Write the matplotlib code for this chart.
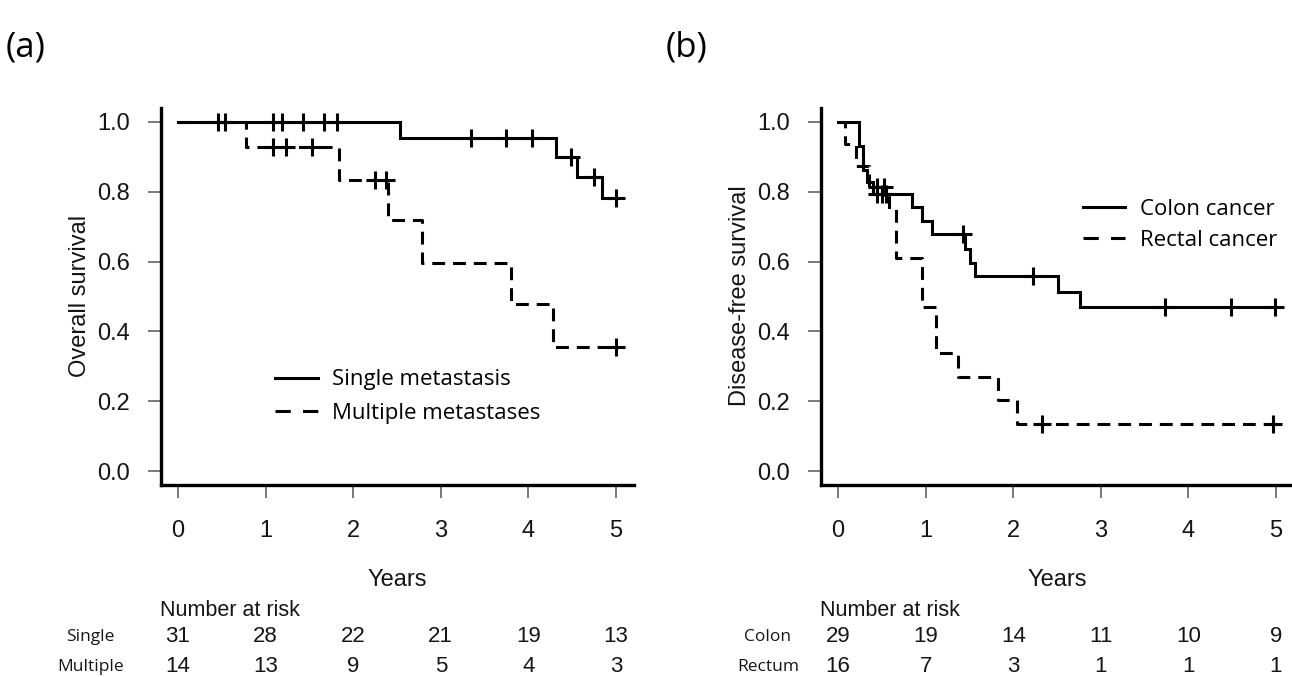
import numpy as np
import matplotlib
matplotlib.use("Agg")
import matplotlib.pyplot as plt
import matplotlib.transforms as mtransforms
from matplotlib.lines import Line2D

# ---------------- data ----------------
years = [0, 1, 2, 3, 4, 5]

# (a) overall survival
single_t = [0, 2.53, 4.32, 4.55, 4.84, 5.0]
single_s = [1.0, 0.955, 0.900, 0.842, 0.783, 0.783]
single_cens = [0.46, 0.54, 1.08, 1.19, 1.43, 1.67, 1.82, 3.35, 3.75, 4.04, 4.49, 4.75, 5.0]

multiple_t = [0, 0.78, 1.84, 2.40, 2.78, 3.80, 4.28, 5.0]
multiple_s = [1.0, 0.929, 0.834, 0.719, 0.597, 0.478, 0.356, 0.356]
multiple_cens = [1.08, 1.23, 1.53, 2.25, 2.37, 5.0]

# (b) disease-free survival
colon_t = [0, 0.24, 0.28, 0.33, 0.40, 0.84, 0.96, 1.07, 1.45, 1.51, 1.56, 2.51, 2.76, 5.0]
colon_s = [1.0, 0.931, 0.862, 0.828, 0.793, 0.755, 0.717, 0.678, 0.636, 0.597, 0.559, 0.514, 0.471, 0.471]
colon_cens = [0.45, 0.50, 0.55, 1.43, 2.23, 3.73, 4.49, 4.99]

rectal_t = [0, 0.08, 0.21, 0.35, 0.58, 0.66, 0.96, 1.12, 1.37, 1.83, 2.04, 5.0]
rectal_s = [1.0, 0.9375, 0.875, 0.8125, 0.75, 0.609, 0.47, 0.338, 0.27, 0.203, 0.136, 0.136]
rectal_cens = [0.45, 0.52, 2.33, 4.97]

# number at risk
single_risk = [31, 28, 22, 21, 19, 13]
multiple_risk = [14, 13, 9, 5, 4, 3]
colon_risk = [29, 19, 14, 11, 10, 9]
rectum_risk = [16, 7, 3, 1, 1, 1]

yticks = [0.0, 0.2, 0.4, 0.6, 0.8, 1.0]

# ---------------- styling ----------------
W, H = 1292, 677
fig = plt.figure(figsize=(W / 100, H / 100), dpi=100)

AX_FONT = "Liberation Sans"
UI_FONT = "Open Sans"
TICK_FS = 17
TXT = "#151515"
LW = 2.2
DASH = (0, (4.2, 2.6))


def px(x, y):
    return x / W, 1 - y / H


def step_value(t, s, ct):
    t = np.asarray(t)
    s = np.asarray(s)
    idx = np.searchsorted(t, ct, side="right") - 1
    return s[np.clip(idx, 0, len(s) - 1)]


def make_axes(left_px):
    l, b = px(left_px, 485)
    ax = fig.add_axes([l, b, 473 / W, 377 / H])
    ax.set_xlim(-0.2, 5.2)
    ax.set_ylim(-0.04, 1.04)
    for sp in ["top", "right"]:
        ax.spines[sp].set_visible(False)
    for sp in ["left", "bottom"]:
        ax.spines[sp].set_linewidth(2.4)
        ax.spines[sp].set_color("black")
    ax.set_xticks(years)
    ax.set_xticklabels([str(v) for v in years])
    ax.set_yticks(yticks)
    ax.set_yticklabels([f"{v:.1f}" for v in yticks])
    ax.tick_params(axis="both", direction="out", length=9.5, width=1.1,
                   color="#555555", labelcolor=TXT, labelsize=TICK_FS)
    ax.tick_params(axis="x", pad=16)
    ax.tick_params(axis="y", pad=12.5)
    for lab in ax.get_xticklabels() + ax.get_yticklabels():
        lab.set_fontfamily(AX_FONT)
    ax.patch.set_alpha(0)
    return ax


def km(ax, t, s, cens, ls):
    ax.step(t, s, where="post", color="black", lw=LW, linestyle=ls,
            solid_joinstyle="miter", dash_capstyle="butt")
    ax.plot(cens, step_value(t, s, cens), linestyle="none", marker="+",
            ms=13, mew=2.2, color="black")


def risk_table(ax, x0_px, label_x, label1, label2, r1, r2):
    trans = mtransforms.blended_transform_factory(ax.transData, fig.transFigure)
    fig.text(*px(x0_px, 611), "Number at risk", fontsize=15.5, family=AX_FONT,
             color=TXT, ha="left", va="center")
    for lab, row, y in [(label1, r1, 637), (label2, r2, 667)]:
        yy = 1 - y / H
        ax.text(label_x, yy, lab, transform=trans, fontsize=12.5, family=UI_FONT,
                ha="center", va="center", color=TXT, clip_on=False)
        for xv, n in zip(years, row):
            ax.text(xv, yy, str(n), transform=trans, fontsize=16, family=AX_FONT,
                    ha="center", va="center", color=TXT, clip_on=False)


leg_handles = [Line2D([], [], color="black", lw=LW),
               Line2D([], [], color="black", lw=LW, linestyle=(0, (5, 4)))]

# ---------------- panel (a) ----------------
axa = make_axes(160.5)
km(axa, single_t, single_s, single_cens, "-")
km(axa, multiple_t, multiple_s, multiple_cens, DASH)
fig.text(*px(80, 296), "Overall survival", rotation=90, fontsize=TICK_FS,
         family=AX_FONT, ha="center", va="center", color=TXT)
fig.text(*px(397, 580), "Years", fontsize=TICK_FS, family=AX_FONT,
         ha="center", va="center", color=TXT)
axa.legend(leg_handles, ["Single metastasis", "Multiple metastases"],
           loc="center left", bbox_to_anchor=((275 - 160.5) / 473, (485 - 396.5) / 377),
           frameon=False, borderpad=0, borderaxespad=0, handlelength=1.95,
           handletextpad=0.6, labelspacing=0.55,
           prop={"family": UI_FONT, "size": 16})
risk_table(axa, 160, -1.0, "Single", "Multiple", single_risk, multiple_risk)
fig.text(*px(6, 48), "(a)", fontsize=25, family=UI_FONT, ha="left", va="center")

# ---------------- panel (b) ----------------
axb = make_axes(820.5)
km(axb, colon_t, colon_s, colon_cens, "-")
km(axb, rectal_t, rectal_s, rectal_cens, DASH)
fig.text(*px(740, 296), "Disease-free survival", rotation=90, fontsize=TICK_FS,
         family=AX_FONT, ha="center", va="center", color=TXT)
fig.text(*px(1057, 580), "Years", fontsize=TICK_FS, family=AX_FONT,
         ha="center", va="center", color=TXT)
axb.legend(leg_handles, ["Colon cancer", "Rectal cancer"],
           loc="center left", bbox_to_anchor=((1083 - 820.5) / 473, (485 - 225) / 377),
           frameon=False, borderpad=0, borderaxespad=0, handlelength=1.9,
           handletextpad=0.65, labelspacing=0.45,
           prop={"family": UI_FONT, "size": 16})
risk_table(axb, 820, -0.8, "Colon", "Rectum", colon_risk, rectum_risk)
fig.text(*px(666, 48), "(b)", fontsize=25, family=UI_FONT, ha="left", va="center")

fig.savefig("out.png", dpi=100, facecolor="white")
